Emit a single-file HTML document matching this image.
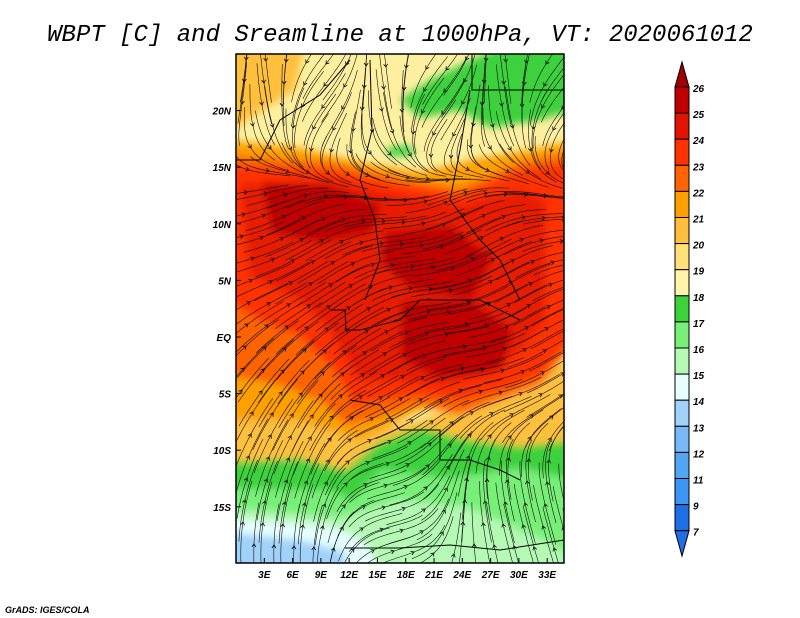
<!DOCTYPE html>
<html><head><meta charset="utf-8"><style>
body{margin:0;background:#fff;width:800px;height:618px;overflow:hidden}
svg{display:block}
.lab{font-family:"Liberation Sans",sans-serif;font-style:italic;font-weight:bold;font-size:10px;fill:#000}
</style></head><body>
<svg id="s" width="800" height="618" viewBox="0 0 800 618">
<defs>
<clipPath id="mc"><rect x="236" y="54" width="328" height="509"/></clipPath>
<filter id="bl" x="-5%" y="-5%" width="110%" height="110%"><feGaussianBlur stdDeviation="4"/></filter>
</defs>
<text x="400" y="41" text-anchor="middle" font-family="Liberation Mono, monospace" font-style="italic" font-size="24" fill="#000">WBPT [C] and Sreamline at 1000hPa, VT: 2020061012</text>
<g clip-path="url(#mc)">
<rect x="236" y="54" width="328" height="509" fill="#fff0a0"/>
<g filter="url(#bl)">
<path fill="#ffc03c" d="M226,44 L305,44 L295,90 L255,115 L226,135 Z"/>
<path fill="#ffc03c" d="M226,330 L320,350 L370,430 L420,420 L520,380 L574,360 L574,470 L226,470 Z"/>
<path fill="#ffa000" d="M226,140 L300,148 L360,162 L420,172 L480,158 L540,148 L574,140 L574,330 L500,400 L420,410 L360,440 L330,430 L300,420 L226,420 Z"/>
<path fill="#ff6400" d="M226,155 L330,162 L400,178 L460,188 L520,162 L574,152 L574,345 L540,385 L500,400 L460,415 L420,405 L370,420 L345,425 L320,400 L280,385 L226,375 Z"/>
<path fill="#ff3200" d="M226,165 L330,170 L400,184 L460,195 L520,170 L574,162 L574,335 L540,375 L500,390 L460,400 L420,395 L380,400 L355,405 L335,370 L300,335 L260,320 L226,300 Z"/>
<path fill="#e81e00" d="M240,185 L330,180 L400,195 L460,205 L520,190 L545,200 L545,320 L520,350 L490,375 L440,385 L400,380 L360,380 L330,330 L300,300 L250,275 Z"/>
<path fill="#c00000" d="M262,182 L330,186 L380,205 L372,232 L320,242 L272,232 Z"/>
<path fill="#c00000" d="M385,232 L450,226 L492,258 L472,298 L412,290 L382,262 Z"/>
<path fill="#c00000" d="M402,302 L470,300 L512,330 L502,370 L442,378 L402,358 Z"/>
<path fill="#3cd23c" d="M226,462 L300,458 L345,470 L380,442 L420,428 L470,440 L520,446 L574,440 L574,573 L226,573 Z"/>
<path fill="#78f078" d="M226,488 L330,490 L352,500 L382,470 L450,478 L520,468 L574,480 L574,573 L226,573 Z"/>
<path fill="#b4fab4" d="M226,508 L340,518 L400,500 L470,508 L520,530 L560,548 L574,573 L226,573 Z"/>
<path fill="#e6ffff" d="M226,518 L330,526 L362,540 L385,573 L226,573 Z"/>
<path fill="#a0d2fa" d="M226,532 L300,540 L345,552 L345,573 L226,573 Z"/>
<path fill="#3cd23c" d="M400,100 L430,80 L470,60 L500,48 L574,48 L574,110 L540,120 L490,128 L460,110 L420,118 Z"/>
<path fill="#3cd23c" d="M385,148 L410,145 L415,155 L390,157 Z"/>
</g>
<g id="sl"></g>
<g fill="none" stroke="#000" stroke-width="1">
<path d="M236,160 L260,160 L280,120 L320,95 L350,60"/>
<path d="M370,60 L372,130 L360,180 L375,220 L380,260 L365,300"/>
<path d="M472,54 L472,90 L510,90 L564,90"/>
<path d="M470,90 L460,150 L450,200 L480,240 L500,260 L520,300"/>
<path d="M330,310 L345,310 L346,330 L360,330 L400,320 L420,300 L480,300 L520,320"/>
<path d="M350,400 L380,405 L400,430 L440,430 L440,460 L470,460 L500,470 L520,480"/>
<path d="M345,548 L400,548 L450,545 L500,550 L564,540"/>
</g>
</g>
<rect x="236" y="54" width="328" height="509" fill="none" stroke="#000" stroke-width="1.5"/>
<g id="ax"></g>
<g id="cb"></g>
<text x="5" y="613" font-family="Liberation Sans,sans-serif" font-style="italic" font-weight="bold" font-size="9">GrADS: IGES/COLA</text>
</svg>
<script>
const latTicks=["20N","15N","10N","5N","EQ","5S","10S","15S"];
const latVals=[20,15,10,5,0,-5,-10,-15];
const lonTicks=["3E","6E","9E","12E","15E","18E","21E","24E","27E","30E","33E"];
const lonVals=[3,6,9,12,15,18,21,24,27,30,33];
const cbLabels=["26","25","24","23","22","21","20","19","18","17","16","15","14","13","12","11","9","7"];
const cbColors=["#c00000","#e01400","#ff3200","#ff6400","#ffa000","#ffbe3c","#ffe178","#fff5aa","#3cd23c","#78f078","#b4fab4","#e6ffff","#a0d2fa","#78b9fa","#50a5f5","#3c96f5","#1e6ee6"];
const NS="http://www.w3.org/2000/svg";
function yOf(lat){return 337-lat*11.32;}
function xOf(lon){return 236+lon*9.43;}
function mk(t,a,p){const e=document.createElementNS(NS,t);for(const k in a)e.setAttribute(k,a[k]);p.appendChild(e);return e;}
const ax=document.getElementById('ax');
latTicks.forEach((t,i)=>{const y=yOf(latVals[i]);
 const l=mk('line',{x1:236,x2:241,y1:y,y2:y,stroke:'#000'},ax);
 
 
 const tx=mk('text',{x:231,y:y+4,'text-anchor':'end',class:'lab'},ax);tx.textContent=t;
 
 });
lonTicks.forEach((t,i)=>{const x=xOf(lonVals[i]);
 const l=mk('line',{x1:x,x2:x,y1:563,y2:558,stroke:'#000'},ax);
 
 
 const tx=mk('text',{x:x,y:578,'text-anchor':'middle',class:'lab'},ax);tx.textContent=t;
 
 });
const cb=document.getElementById('cb');const cbTop=87,cbH=26.1,cbX=675,cbW=14;
const tt=mk('path',{d:`M${cbX},${cbTop} L${cbX+cbW/2},62 L${cbX+cbW},${cbTop} Z`,fill:'#a00000',stroke:'#000'},cb);


cbColors.forEach((c,i)=>{const r=mk('rect',{x:cbX,y:cbTop+i*cbH,width:cbW,height:cbH,fill:c,stroke:'#000'},cb);
 
 });
const yb=cbTop+cbColors.length*cbH;
const bt=mk('path',{d:`M${cbX},${yb} L${cbX+cbW/2},556 L${cbX+cbW},${yb} Z`,fill:'#1e6ee6',stroke:'#000'},cb);


cbLabels.forEach((t,i)=>{const tx=mk('text',{x:693,y:cbTop+i*cbH+5,class:'lab','font-size':'12'},cb);tx.textContent=t;
 
 });
function sg(z){return 1/(1+Math.exp(-z));}
function field(x,y){const lat=(337-y)/11.32,lon=(x-236)/9.43;
 const wN=sg((lat-15)/2),wSW=sg((12-lon)/1.5)*sg((3-lat)/2.5),wSE=sg((lon-22)/2)*sg((-9-lat)/2);
 let u=1,v=-0.35+0.2*Math.sin(lon/3+lat/4);
 u=u*(1-wSW)+(0.2+0.05*(lat+15))*wSW; v=v*(1-wSW)+(-1)*wSW;
 u=u*(1-wSE)+(-0.3)*wSE; v=v*(1-wSE)+(-1)*wSE;
 u=u*(1-wN)+(-0.3+0.4*Math.sin(lon/2))*wN; v=v*(1-wN)+(0.9)*wN;
 const m=Math.hypot(u,v)||1;return [u/m,v/m];}
const sl=document.getElementById('sl');
for(let sx=242;sx<564;sx+=20)for(let sy=60;sy<563;sy+=22){
 const jx=sx+((sy*7)%13),jy=sy+((sx*5)%11);
 let pts=[[jx,jy]],p=[jx,jy];
 for(let k=0;k<14;k++){const f=field(p[0],p[1]);p=[p[0]+f[0]*3,p[1]+f[1]*3];pts.push(p);}
 p=[jx,jy];const back=[];
 for(let k=0;k<14;k++){const f=field(p[0],p[1]);p=[p[0]-f[0]*3,p[1]-f[1]*3];back.unshift(p);}
 const all=back.concat(pts);
 const pl=mk('polyline',{points:all.map(q=>q[0].toFixed(1)+','+q[1].toFixed(1)).join(' '),fill:'none',stroke:'#111','stroke-width':'0.6'},sl);
 
 
 const f=field(jx,jy),a=Math.atan2(f[1],f[0]);
 const ca=Math.cos(a),sa=Math.sin(a);
 const ar=mk('path',{d:`M${jx-3*ca+2*sa},${jy-3*sa-2*ca} L${jx},${jy} L${jx-3*ca-2*sa},${jy-3*sa+2*ca}`,fill:'none',stroke:'#000','stroke-width':'0.8'},sl);
 
 
}
</script>
</body></html>
